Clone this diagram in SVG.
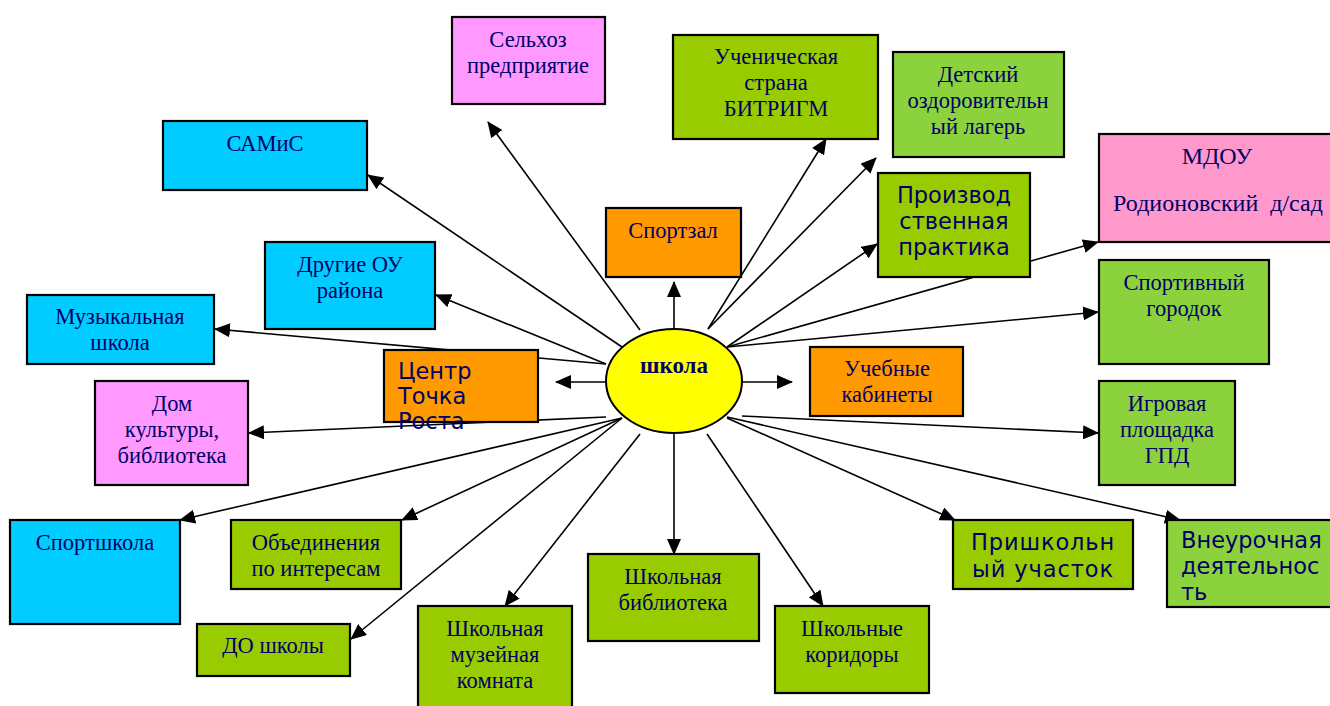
<svg xmlns="http://www.w3.org/2000/svg" width="1330" height="706" viewBox="0 0 1330 706">
<defs>
<marker id="ah" markerUnits="userSpaceOnUse" markerWidth="16" markerHeight="14" refX="15" refY="7" orient="auto">
<path d="M0,0 L16,7 L0,14 Z" fill="#000"/>
</marker>
<style>
.b{stroke:#000;stroke-width:2.2}
.cy{fill:#00ccff}.pk{fill:#ff99ff}.gr{fill:#99cc00}.lg{fill:#8cd23c}.or{fill:#ff9900}.rs{fill:#ff99cc}
.t{font-family:"Liberation Serif","Times New Roman",serif;font-size:22.5px;fill:#000066;text-anchor:middle}
.m{font-size:24px}
.s{font-family:"DejaVu Sans",Verdana,sans-serif;font-size:22.5px;fill:#000066;text-anchor:middle}
.l{text-anchor:start}
.c line{stroke:#000;stroke-width:1.6;marker-end:url(#ah)}
</style>
</defs>
<rect width="1330" height="706" fill="#fff"/>
<g class="c">
<line x1="640" y1="330" x2="488" y2="122"/>
<line x1="622" y1="347" x2="368" y2="175"/>
<line x1="606" y1="364" x2="436" y2="295"/>
<line x1="606" y1="364" x2="215" y2="329"/>
<line x1="606" y1="382" x2="556" y2="382"/>
<line x1="606" y1="417" x2="249" y2="433"/>
<line x1="622" y1="418" x2="180" y2="520"/>
<line x1="622" y1="418" x2="402" y2="520"/>
<line x1="622" y1="418" x2="351" y2="639"/>
<line x1="640" y1="434" x2="505" y2="606"/>
<line x1="674" y1="434" x2="674" y2="554"/>
<line x1="707" y1="434" x2="823" y2="606"/>
<line x1="727" y1="418" x2="955" y2="520"/>
<line x1="727" y1="417" x2="1180" y2="520"/>
<line x1="742" y1="416" x2="1098" y2="433"/>
<line x1="742" y1="382" x2="792" y2="382"/>
<line x1="727" y1="347" x2="1098" y2="312"/>
<line x1="727" y1="347" x2="1098" y2="242"/>
<line x1="727" y1="347" x2="877" y2="244"/>
<line x1="708" y1="329" x2="876" y2="158"/>
<line x1="708" y1="329" x2="826" y2="139"/>
<line x1="674" y1="330" x2="674" y2="282"/>
</g>
<g id="selhoz"><rect class="b pk" x="452" y="17" width="153" height="87"/><text class="t" x="528" y="47">Сельхоз</text><text class="t" x="528" y="73">предприятие</text></g>
<g id="samis"><rect class="b cy" x="163" y="121" width="204" height="69"/><text class="t" x="265" y="151">САМиС</text></g>
<g id="bitrigm"><rect class="b gr" x="673" y="35" width="205" height="104"/><text class="t" x="776" y="64">Ученическая</text><text class="t" x="776" y="90">страна</text><text class="t" x="776" y="116">БИТРИГМ</text></g>
<g id="lager"><rect class="b lg" x="893" y="52" width="171" height="105"/><text class="t" x="978" y="82">Детский</text><text class="t" x="978" y="108">оздоровительн</text><text class="t" x="978" y="134">ый лагерь</text></g>
<g id="praktika"><rect class="b gr" x="878" y="173" width="152" height="104"/><text class="s" x="954" y="203">Производ</text><text class="s" x="954" y="229">ственная</text><text class="s" x="954" y="255">практика</text></g>
<g id="mdou"><rect class="b rs" x="1099" y="134" width="235" height="108"/><text class="t m" x="1217" y="164">МДОУ</text><text class="t m" x="1218" y="211" xml:space="preserve">Родионовский  д/сад</text></g>
<g id="sportzal"><rect class="b or" x="606" y="208" width="135" height="69"/><text class="t" x="673" y="238">Спортзал</text></g>
<g id="drugie"><rect class="b cy" x="265" y="242" width="170" height="87"/><text class="t" x="350" y="272">Другие ОУ</text><text class="t" x="350" y="298">района</text></g>
<g id="muz"><rect class="b cy" x="27" y="295" width="187" height="69"/><text class="t" x="120" y="324">Музыкальная</text><text class="t" x="120" y="350">школа</text></g>
<g id="centr"><rect class="b or" x="384" y="350" width="154" height="72"/><text class="s l" x="398" y="379">Центр</text><text class="s l" x="398" y="404">Точка</text><text class="s l" x="398" y="429">Роста</text></g>
<g id="shkola"><ellipse cx="674" cy="381" rx="68" ry="52" fill="#ffff00" stroke="#000" stroke-width="2"/><text x="674" y="373" style="font-family:'Liberation Serif',serif;font-size:23px;font-weight:bold;fill:#000066;text-anchor:middle">школа</text></g>
<g id="kabinety"><rect class="b or" x="810" y="347" width="153" height="69"/><text class="t" x="887" y="376">Учебные</text><text class="t" x="887" y="402">кабинеты</text></g>
<g id="gorodok"><rect class="b lg" x="1099" y="260" width="170" height="104"/><text class="t" x="1184" y="290">Спортивный</text><text class="t" x="1184" y="316">городок</text></g>
<g id="dk"><rect class="b pk" x="95" y="381" width="153" height="104"/><text class="t" x="172" y="411">Дом</text><text class="t" x="172" y="437">культуры,</text><text class="t" x="172" y="463">библиотека</text></g>
<g id="gpd"><rect class="b lg" x="1099" y="381" width="136" height="104"/><text class="t" x="1167" y="411">Игровая</text><text class="t" x="1167" y="437">площадка</text><text class="t" x="1167" y="463">ГПД</text></g>
<g id="sportshkola"><rect class="b cy" x="10" y="520" width="170" height="104"/><text class="t" x="95" y="550">Спортшкола</text></g>
<g id="obyed"><rect class="b gr" x="231" y="520" width="170" height="69"/><text class="t" x="316" y="550">Объединения</text><text class="t" x="316" y="576">по интересам</text></g>
<g id="do"><rect class="b gr" x="197" y="624" width="153" height="52"/><text class="t" x="273" y="653">ДО школы</text></g>
<g id="muzey"><rect class="b gr" x="418" y="606" width="154" height="104"/><text class="t" x="495" y="636">Школьная</text><text class="t" x="495" y="662">музейная</text><text class="t" x="495" y="688">комната</text></g>
<g id="biblio"><rect class="b gr" x="588" y="554" width="171" height="87"/><text class="t" x="673" y="584">Школьная</text><text class="t" x="673" y="610">библиотека</text></g>
<g id="koridory"><rect class="b gr" x="775" y="606" width="154" height="87"/><text class="t" x="852" y="636">Школьные</text><text class="t" x="852" y="662">коридоры</text></g>
<g id="uchastok"><rect class="b gr" x="953" y="520" width="180" height="69"/><text class="s" x="1043" y="550" letter-spacing="0.9">Пришкольн</text><text class="s" x="1043" y="577" letter-spacing="0.9">ый участок</text></g>
<g id="vneur"><rect class="b lg" x="1167" y="520" width="167" height="87"/><text class="s l" x="1181" y="548">Внеурочная</text><text class="s l" x="1181" y="574">деятельнос</text><text class="s l" x="1181" y="600">ть</text></g>
</svg>
